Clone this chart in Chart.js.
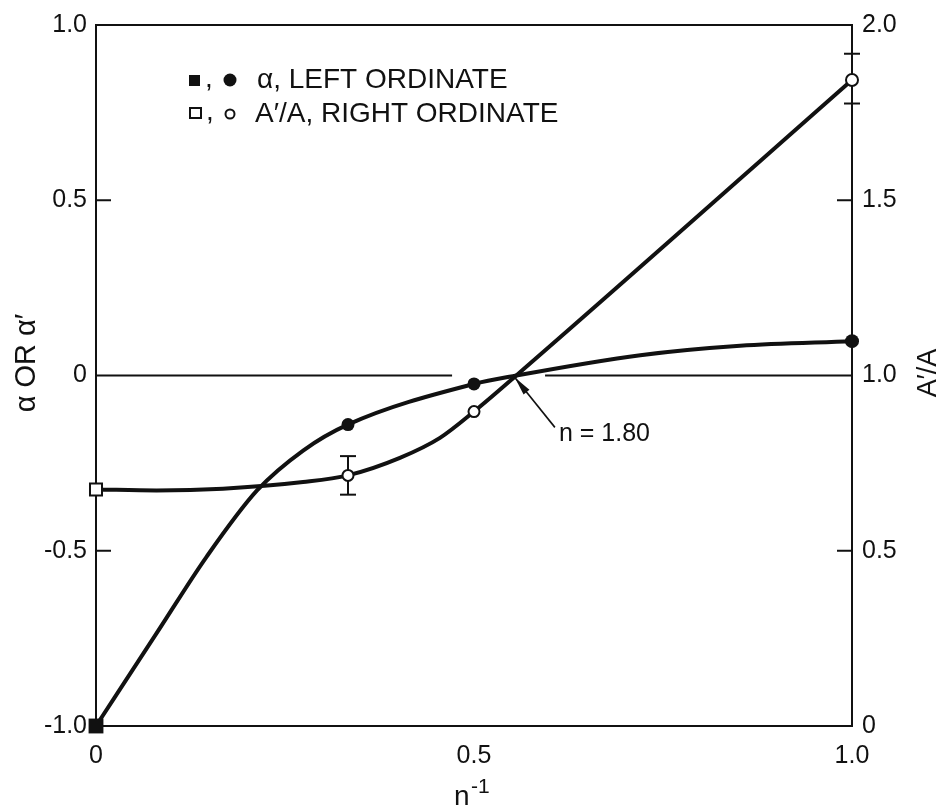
<!DOCTYPE html>
<html>
<head>
<meta charset="utf-8">
<script src="https://cdn.jsdelivr.net/npm/chart.js@4.4.1/dist/chart.umd.min.js"></script>
<style>
  html, body { margin: 0; padding: 0; background: #fff; }
  #wrap { width: 939px; height: 807px; position: relative; }
</style>
</head>
<body>
<div id="wrap"><canvas id="chart"></canvas></div>
<script>
// alpha curve (left ordinate)
const alpha_curve_x = [0, 0.080, 0.146, 0.213, 0.274, 0.333, 0.5, 0.556, 0.72, 0.852, 1.0];
const alpha_curve_y = [-1.0, -0.736, -0.518, -0.328, -0.214, -0.14, -0.024, 0, 0.058, 0.085, 0.098];

// A'/A curve (right ordinate)
const ratio_curve_x = [0, 0.080, 0.168, 0.274, 0.333, 0.402, 0.455, 0.5, 0.556, 1.0];
const ratio_curve_y = [0.675, 0.672, 0.677, 0.696, 0.715, 0.765, 0.822, 0.897, 1.0, 1.843];

// measured points
const alpha_mark_x = [0, 1/3, 0.5, 1.0];
const alpha_mark_y = [-1.0, -0.14, -0.024, 0.098];
const ratio_mark_x = [0, 1/3, 0.5, 1.0];
const ratio_mark_y = [0.675, 0.715, 0.897, 1.843];
const ratio_err_lo = [null, 0.66, null, 1.776];
const ratio_err_hi = [null, 0.77, null, 1.918];

// zero line (broken near the crossing)
const zero_x = [0, 0.471, 0.53, 0.594, 1.0];
const zero_y = [0, 0, null, 0, 0];

// n = 1.80 arrow, tail and tip
const arrow_tail = [0.607, -0.148];
const arrow_head = [0.554, -0.006];

const left_inner_ticks = [-0.5, 0.5];
const right_inner_ticks = [0.5, 1.5];

const ink = '#111';
const FONT = "'Liberation Sans', Arial, sans-serif";

function pts(xs, ys){
  return xs.map((x, i) => ({x: x, y: ys[i]}));
}

function fmt(v){
  return v === 0 ? '0' : v.toFixed(1);
}

function line(ctx, x1, y1, x2, y2){
  ctx.beginPath();
  ctx.moveTo(x1, y1);
  ctx.lineTo(x2, y2);
  ctx.stroke();
}

const inkPlugin = {
  id: 'ink',
  beforeDatasetsDraw(chart){
    const {ctx, chartArea: a, scales} = chart;
    ctx.save();
    ctx.strokeStyle = ink;
    ctx.lineWidth = 2;
    ctx.strokeRect(a.left, a.top, a.right - a.left, a.bottom - a.top);
    // ticks on the inside of the frame
    for (const v of left_inner_ticks){
      const y = scales.yL.getPixelForValue(v);
      line(ctx, a.left, y, a.left + 15, y);
    }
    for (const v of right_inner_ticks){
      const y = scales.yR.getPixelForValue(v);
      line(ctx, a.right - 15, y, a.right, y);
    }
    // error bars
    for (let i = 0; i < ratio_mark_x.length; i++){
      if (ratio_err_lo[i] == null) continue;
      const x = scales.x.getPixelForValue(ratio_mark_x[i]);
      const y1 = scales.yR.getPixelForValue(ratio_err_lo[i]);
      const y2 = scales.yR.getPixelForValue(ratio_err_hi[i]);
      line(ctx, x, y1, x, y2);
      line(ctx, x - 8, y1, x + 8, y1);
      line(ctx, x - 8, y2, x + 8, y2);
    }
    ctx.restore();
  },
  afterDraw(chart){
    const {ctx, scales} = chart;
    ctx.save();
    ctx.fillStyle = ink;
    ctx.strokeStyle = ink;

    // legend
    ctx.fillRect(189, 75, 11, 11);
    ctx.beginPath(); ctx.arc(230, 80, 6.5, 0, Math.PI * 2); ctx.fill();
    ctx.lineWidth = 2;
    ctx.strokeRect(190, 108, 11, 10);
    ctx.beginPath(); ctx.arc(230, 114, 4.5, 0, Math.PI * 2); ctx.stroke();
    ctx.font = '28px ' + FONT;
    ctx.textBaseline = 'middle';
    ctx.textAlign = 'left';
    ctx.fillText(',', 205, 79);
    ctx.fillText(',', 206, 112);
    ctx.fillText('\u03B1, LEFT ORDINATE', 257, 80);
    ctx.fillText('A\u2032/A, RIGHT ORDINATE', 255, 114);

    // n = 1.80 label with arrow
    const tx = scales.x.getPixelForValue(arrow_tail[0]);
    const ty = scales.yL.getPixelForValue(arrow_tail[1]);
    const hx = scales.x.getPixelForValue(arrow_head[0]);
    const hy = scales.yL.getPixelForValue(arrow_head[1]);
    ctx.lineWidth = 1.6;
    line(ctx, tx, ty, hx, hy);
    const ang = Math.atan2(hy - ty, hx - tx);
    ctx.beginPath();
    ctx.moveTo(hx, hy);
    ctx.lineTo(hx - 19 * Math.cos(ang - 0.2), hy - 19 * Math.sin(ang - 0.2));
    ctx.lineTo(hx - 19 * Math.cos(ang + 0.2), hy - 19 * Math.sin(ang + 0.2));
    ctx.closePath();
    ctx.fill();
    ctx.font = '25px ' + FONT;
    ctx.fillText('n = 1.80', tx + 4, ty + 7);

    // axis titles
    ctx.font = '29px ' + FONT;
    ctx.textAlign = 'center';
    ctx.save();
    ctx.translate(27, 363);
    ctx.rotate(-Math.PI / 2);
    ctx.fillText('\u03B1 OR \u03B1\u2032', 0, 0);
    ctx.restore();
    ctx.font = '27px ' + FONT;
    ctx.save();
    ctx.translate(929, 373);
    ctx.rotate(-Math.PI / 2);
    ctx.fillText('A\u2032/A', 0, 0);
    ctx.restore();
    ctx.textAlign = 'left';
    ctx.font = '28px ' + FONT;
    ctx.fillText('n', 454, 797);
    ctx.font = '21px ' + FONT;
    ctx.fillText('-1', 471, 787);
    ctx.restore();
  }
};

const tickFont = {family: FONT, size: 25};

new Chart(document.getElementById('chart'), {
  type: 'scatter',
  data: {
    datasets: [
      {
        label: 'alpha points',
        data: pts(alpha_mark_x, alpha_mark_y),
        yAxisID: 'yL',
        showLine: false,
        pointStyle: ['rect', 'circle', 'circle', 'circle'],
        pointRadius: [10.5, 6.5, 6.5, 7],
        backgroundColor: ink,
        borderColor: ink,
        borderWidth: 0,
        clip: false,
        order: 0
      },
      {
        label: 'ratio points',
        data: pts(ratio_mark_x, ratio_mark_y),
        yAxisID: 'yR',
        showLine: false,
        pointStyle: ['rect', 'circle', 'circle', 'circle'],
        pointRadius: [8.5, 5.5, 5.5, 6],
        backgroundColor: '#fff',
        borderColor: ink,
        borderWidth: 2,
        clip: false,
        order: 0
      },
      {
        label: 'alpha curve',
        data: pts(alpha_curve_x, alpha_curve_y),
        yAxisID: 'yL',
        showLine: true,
        pointRadius: 0,
        borderColor: ink,
        borderWidth: 4,
        cubicInterpolationMode: 'monotone',
        clip: false,
        order: 1
      },
      {
        label: 'ratio curve',
        data: pts(ratio_curve_x, ratio_curve_y),
        yAxisID: 'yR',
        showLine: true,
        pointRadius: 0,
        borderColor: ink,
        borderWidth: 4,
        cubicInterpolationMode: 'monotone',
        clip: false,
        order: 1
      },
      {
        label: 'zero',
        data: pts(zero_x, zero_y),
        yAxisID: 'yL',
        showLine: true,
        spanGaps: false,
        pointRadius: 0,
        borderColor: ink,
        borderWidth: 2,
        order: 2
      }
    ]
  },
  options: {
    responsive: true,
    maintainAspectRatio: false,
    animation: false,
    events: [],
    layout: {padding: {top: 24, left: 0, right: 0, bottom: 0}},
    plugins: {legend: {display: false}, tooltip: {enabled: false}},
    scales: {
      x: {
        type: 'linear',
        min: 0, max: 1,
        grid: {display: false, drawTicks: false},
        border: {display: false},
        ticks: {stepSize: 0.5, padding: 15, color: ink, font: tickFont, callback: fmt, maxRotation: 0},
        afterFit(s){ s.height = 81; }
      },
      yL: {
        type: 'linear',
        position: 'left',
        min: -1, max: 1,
        grid: {display: false, drawTicks: false},
        border: {display: false},
        ticks: {stepSize: 0.5, padding: 9, color: ink, font: tickFont, callback: fmt},
        afterFit(s){ s.width = 96; }
      },
      yR: {
        type: 'linear',
        position: 'right',
        min: 0, max: 2,
        grid: {display: false, drawTicks: false},
        border: {display: false},
        ticks: {stepSize: 0.5, padding: 10, color: ink, font: tickFont, callback: fmt},
        afterFit(s){ s.width = 87; }
      }
    }
  },
  plugins: [inkPlugin]
});
</script>
</body>
</html>
